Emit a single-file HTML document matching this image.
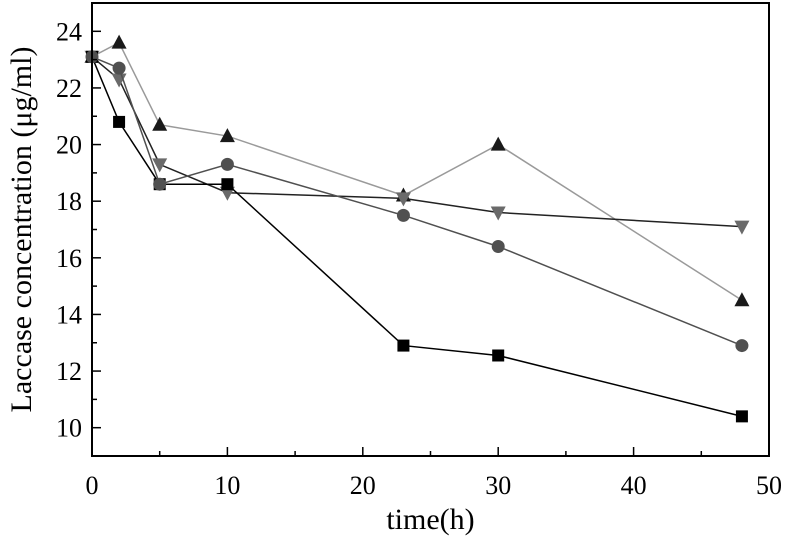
<!DOCTYPE html>
<html><head><meta charset="utf-8"><style>
body{margin:0;background:#fff;}
svg text{font-family:"Liberation Serif",serif;fill:#000;}
</style></head><body>
<svg id="chart" width="786" height="536" xmlns="http://www.w3.org/2000/svg"></svg>
<script>
const times = [0, 2, 5, 10, 23, 30, 48];
const seriesSquare = [23.1, 20.8, 18.6, 18.6, 12.9, 12.55, 10.4];
const seriesCircle = [23.1, 22.7, 18.6, 19.3, 17.5, 16.4, 12.9];
const seriesUp = [23.1, 23.6, 20.7, 20.3, 18.2, 20.0, 14.5];
const seriesDown = [23.1, 22.3, 19.3, 18.3, 18.1, 17.6, 17.1];
const xTicks = [0, 10, 20, 30, 40, 50];
const yTicks = [10, 12, 14, 16, 18, 20, 22, 24];

const L=92, R=769, T=3, B=456, xMin=0, xMax=50, yMin=9, yMax=25;
const sx = v => L + (v - xMin) / (xMax - xMin) * (R - L);
const sy = v => B - (v - yMin) / (yMax - yMin) * (B - T);
const svg = document.getElementById('chart');
const NS = 'http://www.w3.org/2000/svg';
function mk(tag, attrs, parent){const e=document.createElementNS(NS,tag);for(const k in attrs)e.setAttribute(k,attrs[k]);(parent||svg).appendChild(e);return e;}

const series = [
 {vals: seriesUp, line:'#9a9a9a', fill:'#1a1a1a', shape:'up', name:'series-up-triangle'},
 {vals: seriesDown, line:'#222', fill:'#6a6a6a', shape:'down', name:'series-down-triangle'},
 {vals: seriesSquare, line:'#000', fill:'#000', shape:'square', name:'series-square'},
 {vals: seriesCircle, line:'#505050', fill:'#505050', shape:'circle', name:'series-circle'}
];
series.forEach(s=>{
  const g = mk('g',{});
  
  
  const pts = s.vals.map((v,i)=>sx(times[i])+','+sy(v)).join(' ');
  const pl = mk('polyline',{points:pts,fill:'none',stroke:s.line,'stroke-width':1.5},g);
  
  
  s.vals.forEach((v,i)=>{
    const x=sx(times[i]), y=sy(v); let m;
    if(s.shape==='square') m=mk('rect',{x:x-6,y:y-6,width:12,height:12,fill:s.fill},g);
    else if(s.shape==='circle') m=mk('circle',{cx:x,cy:y,r:6.5,fill:s.fill},g);
    else if(s.shape==='up') m=mk('polygon',{points:`${x},${y-8} ${x-7.5},${y+6} ${x+7.5},${y+6}`,fill:s.fill},g);
    else m=mk('polygon',{points:`${x},${y+8} ${x-7.5},${y-6} ${x+7.5},${y-6}`,fill:s.fill},g);
    
    
  });
});

const frame = mk('rect',{x:L,y:T,width:R-L,height:B-T,fill:'none',stroke:'#000','stroke-width':2});



xTicks.forEach(v=>{
  const x=sx(v);
  mk('line',{x1:x,y1:B,x2:x,y2:B-9,stroke:'#000','stroke-width':1.5});
  if(v<xMax) mk('line',{x1:sx(v+5),y1:B,x2:sx(v+5),y2:B-5,stroke:'#000','stroke-width':1.5});
  const t=mk('text',{x:x,y:B+38,'text-anchor':'middle','font-size':26});
  t.textContent=v;
  
  
});
yTicks.forEach(v=>{
  const y=sy(v);
  mk('line',{x1:L,y1:y,x2:L+9,y2:y,stroke:'#000','stroke-width':1.5});
  mk('line',{x1:L,y1:sy(v-1),x2:L+5,y2:sy(v-1),stroke:'#000','stroke-width':1.5});
  const t=mk('text',{x:L-10,y:y+9,'text-anchor':'end','font-size':26});
  t.textContent=v;
  
  
});
mk('line',{x1:L,y1:sy(25),x2:L+5,y2:sy(25),stroke:'#000','stroke-width':1.5});

const xt=mk('text',{x:(L+R)/2,y:529,'text-anchor':'middle','font-size':30});
xt.textContent='time(h)';


const yt=mk('text',{x:0,y:0,'text-anchor':'middle','font-size':30,transform:`translate(31,${(T+B)/2}) rotate(-90)`});
yt.textContent='Laccase concentration (μg/ml)';


</script>
</body></html>
